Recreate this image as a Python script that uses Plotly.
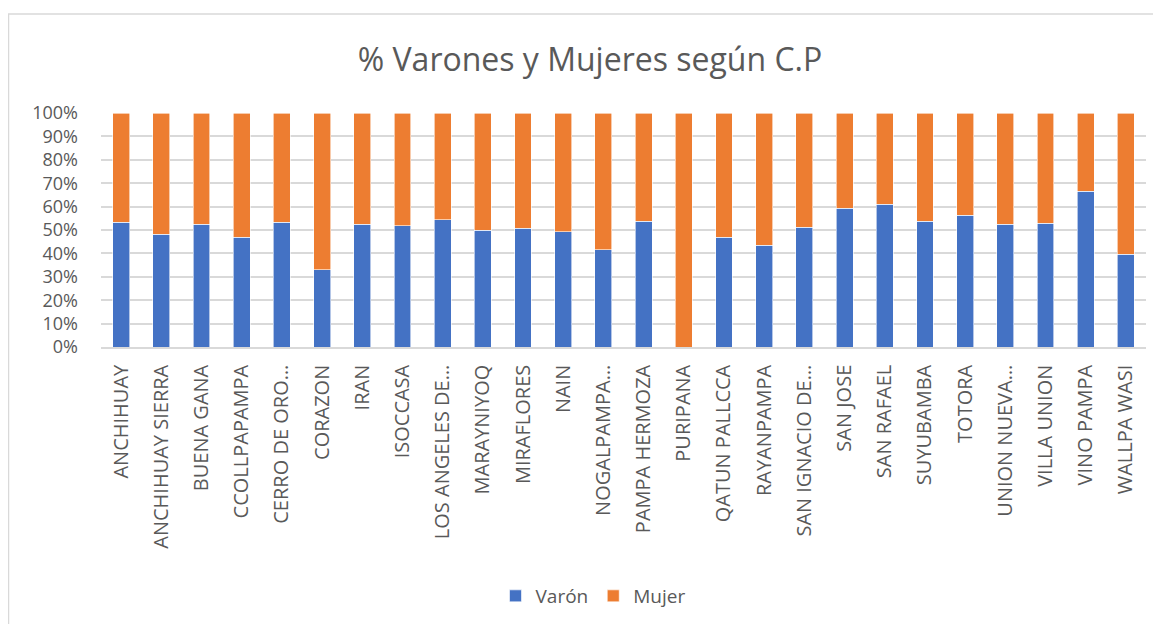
import plotly.graph_objects as go

categories = ["ANCHIHUAY", "ANCHIHUAY SIERRA", "BUENA GANA", "CCOLLPAPAMPA", "CERRO DE ORO…",
              "CORAZON", "IRAN", "ISOCCASA", "LOS ANGELES DE…", "MARAYNIYOQ", "MIRAFLORES",
              "NAIN", "NOGALPAMPA…", "PAMPA HERMOZA", "PURIPANA", "QATUN PALLCCA", "RAYANPAMPA",
              "SAN IGNACIO DE…", "SAN JOSE", "SAN RAFAEL", "SUYUBAMBA", "TOTORA", "UNION NUEVA…",
              "VILLA UNION", "VINO PAMPA", "WALLPA WASI"]
varon = [53.3, 48.1, 52.4, 46.9, 53.4, 33.1, 52.4, 51.9, 54.4, 49.9, 50.7, 49.3, 41.6,
         53.7, 0.0, 46.9, 43.4, 51.1, 59.4, 61.0, 53.7, 56.4, 52.4, 52.9, 66.6, 39.7]
mujer = [round(100 - v, 1) for v in varon]
y_ticks = [0, 10, 20, 30, 40, 50, 60, 70, 80, 90, 100]
y_labels = [f"{t}%" for t in y_ticks]

FONT = "Open Sans, sans-serif"
GRAY = "#595959"

# page body has an 8px margin in the browser, so the figure is slightly smaller
W, H = 1153, 616
L, R, T, B = 93, 15, 105, 277
PW = W - L - R
PH = H - T - B

fig = go.Figure()
fig.add_trace(go.Bar(x=categories, y=varon, name="Varón", marker_color="#4472C4",
                     marker_line=dict(color="#FFFFFF", width=0.6)))
fig.add_trace(go.Bar(x=categories, y=mujer, name="Mujer", marker_color="#ED7D31",
                     marker_line=dict(color="#FFFFFF", width=0.6)))

fig.update_layout(
    width=W, height=H,
    barmode="stack", bargap=0.58,
    paper_bgcolor="white", plot_bgcolor="white",
    margin=dict(l=L, r=R, t=T, b=B, autoexpand=False),
    title=dict(text="% Varones y Mujeres según C.P", x=582 / W, xanchor="center",
               y=1 - 52 / H, yanchor="middle",
               font=dict(family=FONT, size=32, color=GRAY)),
    font=dict(family=FONT, color=GRAY),
    legend=dict(orientation="h", x=(585 - L) / PW, xanchor="center",
                y=-(588 - (T + PH)) / PH, yanchor="middle",
                font=dict(family=FONT, size=19, color=GRAY), itemwidth=30,
                traceorder="normal"),
    showlegend=True,
    shapes=[dict(type="rect", xref="paper", yref="paper",
                 x0=-(L - 0.5) / PW, x1=(W - L + 5) / PW, y0=-1.3, y1=1 + (T - 6) / PH,
                 line=dict(color="#D9D9D9", width=1.5), layer="below")],
)
fig.update_xaxes(tickangle=-90, tickfont=dict(family=FONT, size=20, color=GRAY),
                 showline=True, linecolor="#D9D9D9", linewidth=1.5, ticks="",
                 showgrid=False, ticklabelstandoff=8)
fig.update_yaxes(range=[0, 100], tickvals=y_ticks, ticktext=y_labels,
                 tickfont=dict(family=FONT, size=18, color=GRAY),
                 showgrid=True, gridcolor="#D9D9D9", gridwidth=1.5,
                 zeroline=False, ticks="", showline=False, ticklabelstandoff=22)

fig.write_html("out.html")
